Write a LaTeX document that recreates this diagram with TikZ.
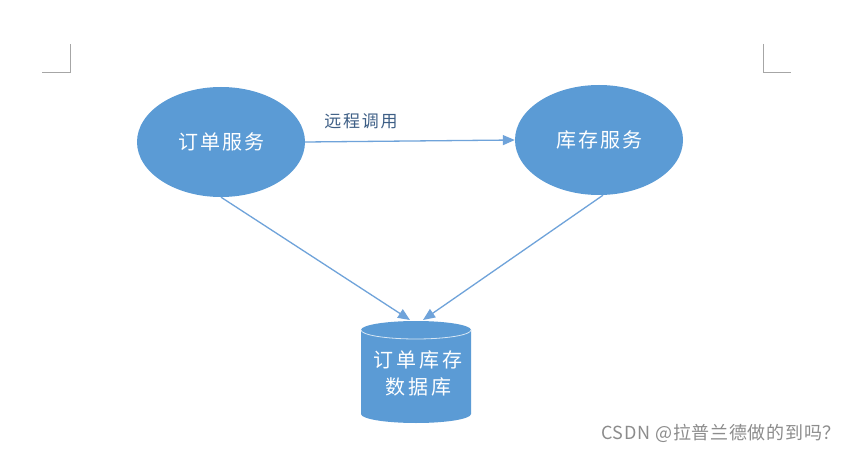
\documentclass[tikz,border=0pt]{standalone}
\usepackage{fontspec}
\setmainfont{Noto Sans CJK SC}
\newfontfamily\cjk[LetterSpace=10]{Noto Sans CJK SC}
\newfontfamily\cjkwide[LetterSpace=15]{Noto Sans CJK SC}
\newfontfamily\cjkmark[LetterSpace=4]{Noto Sans CJK SC}
\usetikzlibrary{arrows.meta,shapes.geometric}
\definecolor{nodeblue}{HTML}{5B9BD5}
\definecolor{lineblue}{HTML}{6FA3DA}
\definecolor{labelblue}{HTML}{3E5F86}
\definecolor{markgray}{HTML}{A6A6A6}
\begin{document}
\begin{tikzpicture}[x=1pt,y=1pt,
  svc/.style={ellipse,fill=nodeblue,minimum width=168pt,minimum height=110pt,inner sep=0pt,
    text=white,font=\cjk\fontsize{20}{24}\selectfont},
  conn/.style={draw=lineblue,line width=1.3pt,-{Triangle[length=12pt,width=10pt]}},
  cornermark/.style={draw=markgray,line width=0.8pt}]
\useasboundingbox (0,0) rectangle (856,453);
\fill[white] (0,0) rectangle (856,453);
% corner marks
\draw[cornermark] (42,381) -- (70,381) -- (70,409);
\draw[cornermark] (763,409) -- (763,381) -- (791,381);
% services
\node[svc] (order) at (221,311) {订单服务};
\node[svc] (stock) at (599,313) {库存服务};
% database cylinder
\fill[nodeblue] (361,123) -- (361,39) arc[start angle=180,end angle=360,x radius=55,y radius=9]
  -- (471,123) arc[start angle=0,end angle=180,x radius=55,y radius=9] -- cycle;
\draw[draw=white!75!nodeblue,line width=0.8pt] (361,123) arc[start angle=180,end angle=360,x radius=55,y radius=9];
\node[text=white,font=\cjkwide\fontsize{20}{27}\selectfont,align=center] (db) at (418,80) {订单库存\\数据库};
\coordinate (dbl) at (410,133);
\coordinate (dbr) at (423,133);
% connectors
\draw[conn] (order.east) -- (stock.west) node[midway,above=8pt,xshift=-49pt,text=labelblue,font=\cjk\fontsize{17}{20}\selectfont] (lbl) {远程调用};
\draw[conn] (order.south) -- (dbl);
\draw[conn] ([xshift=4pt]stock.south) -- (dbr);
% watermark
\node[anchor=east,text=black!45,font=\cjkmark\fontsize{18}{21}\selectfont,inner sep=0pt] (wm) at (841,20) {CSDN @拉普兰德做的到吗？};
\end{tikzpicture}
\end{document}
